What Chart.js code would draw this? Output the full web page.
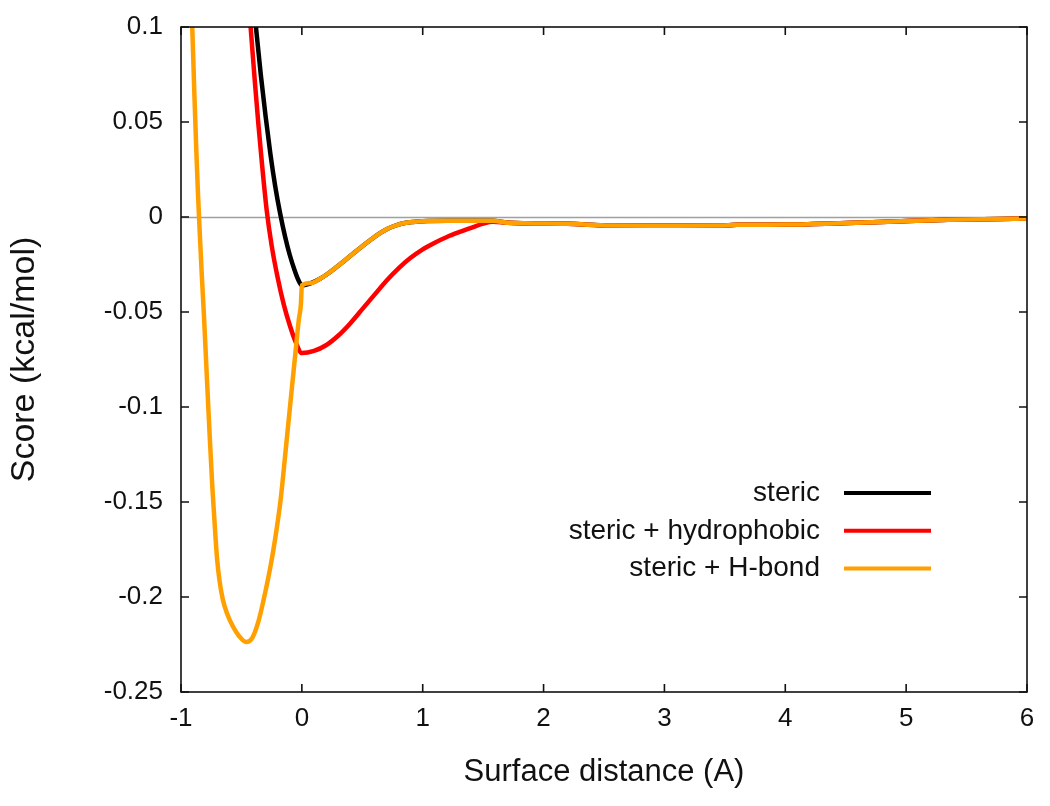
<!DOCTYPE html>
<html>
<head>
<meta charset="utf-8">
<script src="https://cdn.jsdelivr.net/npm/chart.js@4.4.1/dist/chart.umd.min.js"></script>
<style>
  html, body { margin: 0; padding: 0; background: #ffffff; }
  #wrap { width: 1050px; height: 806px; }
</style>
</head>
<body>
<div id="wrap"><canvas id="c" width="1050" height="806"></canvas></div>
<script>
// ---------- data ----------
const seriesNames = ['steric', 'steric + hydrophobic', 'steric + H-bond'];
const seriesColors = ['#000000', '#ff0000', '#ffa000'];

// steric, repulsive part (x < 0)
const stericLeftX = [-0.40, -0.38, -0.34, -0.30, -0.26, -0.22, -0.18, -0.14, -0.10, -0.06, -0.03];
const stericLeftY = [0.113, 0.100, 0.075, 0.053, 0.033, 0.016, 0.002, -0.010, -0.020, -0.028, -0.033];

// steric for x >= 0 (shared by the steric and H-bond curves)
const stericRightX = [0, 0.08, 0.15, 0.22, 0.29, 0.36, 0.43, 0.50, 0.57, 0.64, 0.71, 0.78, 0.85, 0.92, 1.0, 1.2, 1.4, 1.58];
const stericRightY = [-0.036, -0.0347, -0.0325, -0.0296, -0.0262, -0.0226, -0.019, -0.0154, -0.012, -0.0088, -0.0062, -0.0044, -0.0032, -0.0026, -0.0022, -0.002, -0.002, -0.002];

// long flat tail shared by all curves
const tailX = [1.7, 2.2, 2.55, 3.0, 3.46, 3.6, 4.0, 4.45, 4.85, 5.35, 6.0];
const tailY = [-0.003, -0.0036, -0.0045, -0.0046, -0.0045, -0.0041, -0.004, -0.0033, -0.0025, -0.0015, -0.0008];

// steric + hydrophobic
const hydroX = [-0.44, -0.424, -0.39, -0.36, -0.33, -0.29, -0.25, -0.20, -0.15, -0.10, -0.05, 0, 0.1, 0.2, 0.3, 0.4, 0.5, 0.6, 0.7, 0.8, 0.9, 1.0, 1.1, 1.2, 1.3, 1.4, 1.5, 1.58];
const hydroY = [0.114, 0.100, 0.072, 0.049, 0.028, 0.003, -0.015, -0.032, -0.046, -0.057, -0.066, -0.0716, -0.0705, -0.0675, -0.0625, -0.056, -0.0485, -0.041, -0.0335, -0.027, -0.0215, -0.017, -0.0135, -0.0105, -0.008, -0.0057, -0.0035, -0.0025];

// steric + H-bond, x < 0
const hbondLeftX = [-0.92, -0.907, -0.89, -0.875, -0.86, -0.845, -0.83, -0.81, -0.79, -0.765, -0.74, -0.715, -0.70, -0.68, -0.655, -0.62, -0.57, -0.52, -0.46, -0.41, -0.36, -0.32, -0.26, -0.22, -0.176, -0.134, -0.079, -0.051, -0.025, -0.008];
const hbondLeftY = [0.118, 0.100, 0.066, 0.038, 0.013, -0.008, -0.028, -0.052, -0.079, -0.112, -0.143, -0.168, -0.181, -0.192, -0.201, -0.2085, -0.2155, -0.2205, -0.2237, -0.2215, -0.213, -0.2025, -0.184, -0.169, -0.149, -0.1228, -0.0877, -0.070, -0.054, -0.046];

// axis ticks
const xTicks = [-1, 0, 1, 2, 3, 4, 5, 6];
const yTicks = [-0.25, -0.2, -0.15, -0.1, -0.05, 0, 0.05, 0.1];
const yTickLabels = ['-0.25', '-0.2', '-0.15', '-0.1', '-0.05', '0', '0.05', '0.1'];
const xTitle = 'Surface distance (A)';
const yTitle = 'Score (kcal/mol)';

// ---------- build series ----------
function pts(xs, ys) { return xs.map((x, i) => ({ x: x, y: ys[i] })); }
const stericData = pts(stericLeftX, stericLeftY).concat(pts(stericRightX, stericRightY), pts(tailX, tailY));
const hydroData = pts(hydroX, hydroY).concat(pts(tailX, tailY));
const hbondData = pts(hbondLeftX, hbondLeftY).concat(pts(stericRightX, stericRightY), pts(tailX, tailY));

const FONT = "'Liberation Sans', Arial, Helvetica, sans-serif";

// zero line (drawn beneath the curves)
const zeroLine = {
  id: 'zeroLine',
  beforeDatasetsDraw(chart) {
    const { ctx, chartArea: a, scales: { y } } = chart;
    const py = Math.round(y.getPixelForValue(0)) + 0.5;
    ctx.save();
    ctx.strokeStyle = '#a0a0a0';
    ctx.lineWidth = 1.5;
    ctx.beginPath();
    ctx.moveTo(a.left, py);
    ctx.lineTo(a.right, py);
    ctx.stroke();
    ctx.restore();
  }
};

// frame with inward, mirrored ticks (gnuplot style)
const frame = {
  id: 'frame',
  afterDatasetsDraw(chart) {
    const { ctx, chartArea: a, scales: { x, y } } = chart;
    const L = 8;
    ctx.save();
    ctx.strokeStyle = '#111';
    ctx.lineWidth = 1.6;
    ctx.strokeRect(a.left, a.top, a.right - a.left, a.bottom - a.top);
    ctx.beginPath();
    xTicks.forEach(v => {
      const px = x.getPixelForValue(v);
      ctx.moveTo(px, a.bottom); ctx.lineTo(px, a.bottom - L);
      ctx.moveTo(px, a.top); ctx.lineTo(px, a.top + L);
    });
    yTicks.forEach(v => {
      const py = y.getPixelForValue(v);
      ctx.moveTo(a.left, py); ctx.lineTo(a.left + L, py);
      ctx.moveTo(a.right, py); ctx.lineTo(a.right - L, py);
    });
    ctx.stroke();
    ctx.restore();
  }
};

// gnuplot-like key: right-aligned label followed by a line sample
const key = {
  id: 'key',
  afterDraw(chart) {
    const { ctx } = chart;
    const textRight = 820, lineX0 = 844, lineX1 = 931, y0 = 493, dy = 37.8;
    ctx.save();
    ctx.font = '28px ' + FONT;
    ctx.textAlign = 'right';
    ctx.textBaseline = 'middle';
    seriesNames.forEach((name, i) => {
      const yy = y0 + i * dy;
      ctx.fillStyle = '#111';
      ctx.fillText(name, textRight, yy);
      ctx.strokeStyle = seriesColors[i];
      ctx.lineWidth = 4;
      ctx.beginPath();
      ctx.moveTo(lineX0, yy);
      ctx.lineTo(lineX1, yy);
      ctx.stroke();
    });
    ctx.restore();
  }
};

const common = { pointRadius: 0, borderWidth: 4.5, fill: false, cubicInterpolationMode: 'monotone', borderJoinStyle: 'round', borderCapStyle: 'butt' };

new Chart(document.getElementById('c'), {
  type: 'line',
  data: {
    datasets: [
      Object.assign({ label: seriesNames[0], data: stericData, borderColor: seriesColors[0], order: 3 }, common),
      Object.assign({ label: seriesNames[1], data: hydroData, borderColor: seriesColors[1], order: 2 }, common),
      Object.assign({ label: seriesNames[2], data: hbondData, borderColor: seriesColors[2], order: 1 }, common)
    ]
  },
  options: {
    responsive: false,
    devicePixelRatio: 1,
    animation: false,
    layout: { padding: { left: 0, top: 27, right: 23, bottom: 0 } },
    plugins: { legend: { display: false }, tooltip: { enabled: false } },
    scales: {
      x: {
        type: 'linear',
        min: -1, max: 6,
        afterFit(s) { s.height = 114; s.paddingLeft = 0; s.paddingRight = 0; },
        afterBuildTicks(s) { s.ticks = xTicks.map(v => ({ value: v })); },
        grid: { display: false, drawTicks: false },
        border: { display: false },
        ticks: { padding: 11, color: '#111', font: { family: FONT, size: 26 }, callback: v => String(v) },
        title: { display: true, text: xTitle, color: '#111', font: { family: FONT, size: 31 }, padding: { top: 0, bottom: 15 } }
      },
      y: {
        type: 'linear',
        min: -0.25, max: 0.1,
        afterFit(s) { s.width = 181; s.paddingTop = 0; s.paddingBottom = 0; },
        afterBuildTicks(s) { s.ticks = yTicks.map(v => ({ value: v })); },
        grid: { display: false, drawTicks: false },
        border: { display: false },
        ticks: { padding: 18, color: '#111', font: { family: FONT, size: 26 },
          callback: function (v, i) { return yTickLabels[i]; } },
        title: { display: true, text: yTitle, color: '#111', font: { family: FONT, size: 34 }, padding: { top: 4, bottom: 0 } }
      }
    }
  },
  plugins: [zeroLine, frame, key]
});
</script>
</body>
</html>
